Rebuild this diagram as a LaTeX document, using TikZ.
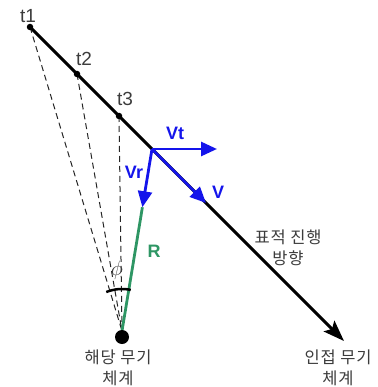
\documentclass[tikz,border=0pt]{standalone}
\usepackage{fontspec}
\setmainfont{Liberation Sans}
\newfontfamily\kfont[LetterSpace=5]{Noto Sans CJK KR}
\usetikzlibrary{arrows.meta,calc}
\definecolor{vblue}{RGB}{20,20,235}
\definecolor{rgreen}{RGB}{46,150,100}
\definecolor{txtgray}{RGB}{60,60,60}
\tikzset{
  tlabel/.style={font=\fontsize{19}{19}\selectfont, text=txtgray, inner sep=0pt},
  vlabel/.style={font=\fontsize{18}{18}\selectfont\bfseries, text=vblue, inner sep=0pt},
  klabel/.style={font=\kfont\fontsize{16.5}{21}\selectfont, text=txtgray, align=center, inner sep=0pt},
  sightline/.style={dashed, dash pattern=on 6pt off 4pt, line width=1pt, black!85},
  vecarrow/.style={line width=2.8pt, vblue, -{Triangle[length=16pt,width=14pt]}},
  tdot/.style={circle, fill=black, minimum size=6.5pt, inner sep=0pt}
}
\begin{document}
\begin{tikzpicture}[x=1pt,y=-1pt]
\useasboundingbox (0,0) rectangle (377,387);
% points
\coordinate (t1) at (30,27);
\coordinate (t2) at (77,74);
\coordinate (t3) at (119,116);
\coordinate (P) at (152,149);
\coordinate (E) at (344,341);
\coordinate (O) at (122,331);
\coordinate (Vtend) at (217,149);
\coordinate (Vend) at (206,203);
\coordinate (Vrend) at ($(P)!0.32!(O)$);
% dashed sight lines
\draw[sightline] (t1) -- (O);
\draw[sightline] (t2) -- (O);
\draw[sightline] (t3) -- (O);
% main track
\draw[line width=3pt, -{Stealth[length=21pt,width=15pt,inset=4pt]}] (t1) -- (E);
% green range line
\draw[rgreen, line width=2.8pt] (Vrend) -- (O);
% vectors
\draw[vecarrow] (P) -- (Vtend);
\draw[vecarrow] (P) -- (Vend);
\draw[vecarrow] (P) -- (Vrend);
% dots
\node[tdot] (d1) at (t1) {};
\node[tdot] (d2) at (t2) {};
\node[tdot] (d3) at (t3) {};
\node[circle, fill=black, minimum size=14pt, inner sep=0pt] (W) at (122,337) {};
% angle arc
\draw[line width=2.5pt] plot[domain=78:112, samples=24, smooth] ({122+42*cos(\x)}, {331-42*sin(\x)});
% labels
\node[tlabel] (lt1) at (28,16) {t1};
\node[tlabel] (lt2) at (84,59) {t2};
\node[tlabel] (lt3) at (125,99) {t3};
\node[vlabel] (lvt) at (175,133) {Vt};
\node[vlabel] (lv) at (218,192) {V};
\node[vlabel] (lvr) at (134,172) {Vr};
\node[vlabel, text=rgreen] (lr) at (154,251) {R};
\node[font=\fontsize{21}{21}\selectfont, text=txtgray, inner sep=0pt] (phi) at (117,270) {$\phi$};
\node[klabel] (k1) at (288,248) {표적 진행\\방향};
\node[klabel] (k2) at (118,368) {해당 무기\\체계};
\node[klabel] (k3) at (338,368) {인접 무기\\체계};
\end{tikzpicture}
\end{document}
